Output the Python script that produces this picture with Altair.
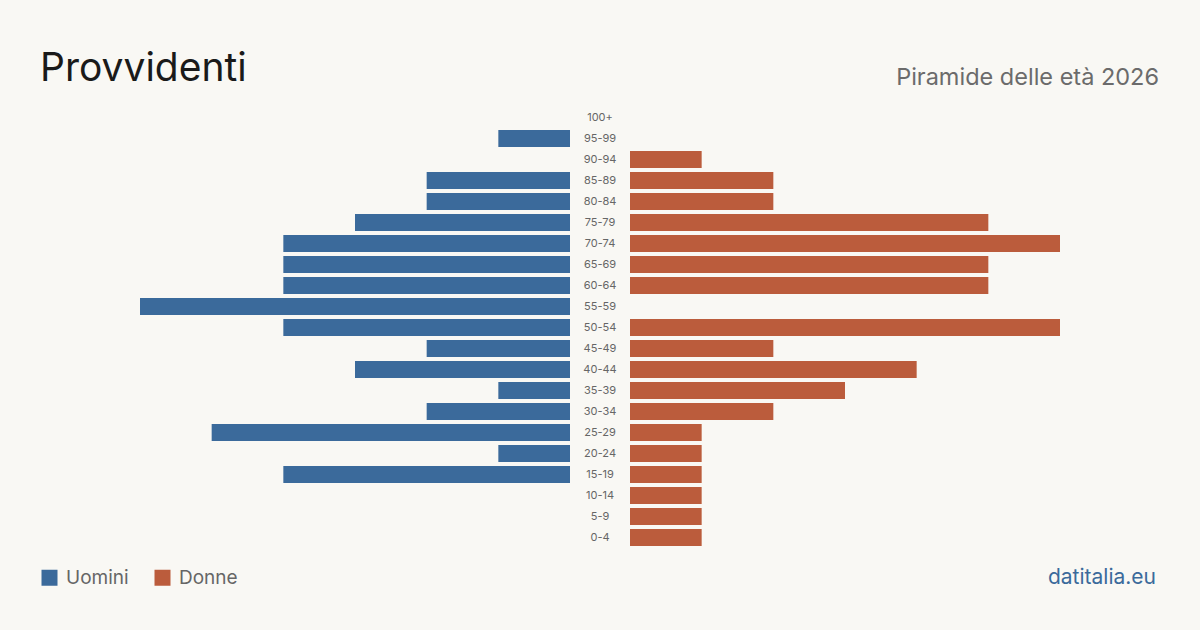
import altair as alt
import pandas as pd

ages = ["100+", "95-99", "90-94", "85-89", "80-84", "75-79", "70-74", "65-69",
        "60-64", "55-59", "50-54", "45-49", "40-44", "35-39", "30-34", "25-29",
        "20-24", "15-19", "10-14", "5-9", "0-4"]
uomini = [0, 1, 0, 2, 2, 3, 4, 4, 4, 6, 4, 2, 3, 1, 2, 5, 1, 4, 0, 0, 0]
donne = [0, 0, 1, 2, 2, 5, 6, 5, 5, 0, 6, 2, 4, 3, 2, 1, 1, 1, 1, 1, 1]

title_text = "Provvidenti"
subtitle_text = "Piramide delle età 2026"
source_text = "datitalia.eu"

BLUE = "#3b6a9b"
RED = "#bb5c3c"
BG = "#f9f8f4"
FONT = "Inter"

rows = []
for a, u, d in zip(ages, uomini, donne):
    rows.append({"age": a, "sex": "Uomini", "value": u})
    rows.append({"age": a, "sex": "Donne", "value": d})
df = pd.DataFrame(rows)

yenc = alt.Y("age:N", sort=ages, axis=None,
             scale=alt.Scale(domain=ages, range=[107, 548],
                             paddingInner=0.19, paddingOuter=0.095))
color = alt.Color("sex:N",
                  scale=alt.Scale(domain=["Uomini", "Donne"], range=[BLUE, RED]),
                  legend=alt.Legend(orient="none", legendX=40, legendY=568,
                                    direction="horizontal", title=None,
                                    symbolType="square", symbolSize=256,
                                    symbolStrokeWidth=0, labelFontSize=19,
                                    labelColor="#666666", labelFont=FONT,
                                    labelOffset=7, columnPadding=24))

base = alt.Chart(df)
men = base.transform_filter(alt.datum.sex == "Uomini").mark_bar().encode(
    x=alt.X("value:Q", axis=None,
            scale=alt.Scale(domain=[0, 6], range=[570, 140], nice=False, zero=True)),
    y=yenc, color=color)
women = base.transform_filter(alt.datum.sex == "Donne").mark_bar().encode(
    x=alt.X("value:Q", axis=None,
            scale=alt.Scale(domain=[0, 6], range=[630, 1060], nice=False, zero=True)),
    y=yenc, color=color)
labels = alt.Chart(pd.DataFrame({"age": ages})).mark_text(
    font=FONT, fontSize=11, color="#666666", align="center", baseline="middle"
).encode(x=alt.value(600), y=yenc, text="age:N")

def txt(s, x, y, size, col, align="left", weight="normal"):
    return alt.Chart(pd.DataFrame({"t": [s]})).mark_text(
        font=FONT, fontSize=size, color=col, align=align, baseline="alphabetic",
        fontWeight=weight
    ).encode(x=alt.value(x), y=alt.value(y), text="t:N")

title = txt(title_text, 40, 81, 39, "#1a1a1a")
subtitle = txt(subtitle_text, 1159, 85, 23.5, "#6b6b6b", align="right")
source = txt(source_text, 1156, 584, 21, BLUE, align="right")

chart = alt.layer(men, women, labels, title, subtitle, source).resolve_scale(
    x="independent"
).properties(
    width=1200, height=630, autosize=alt.AutoSizeParams(type="none"), padding=0,
    background=BG
).configure_view(stroke=None)

chart.save("out.html", embed_options={"renderer": "svg", "actions": False})
